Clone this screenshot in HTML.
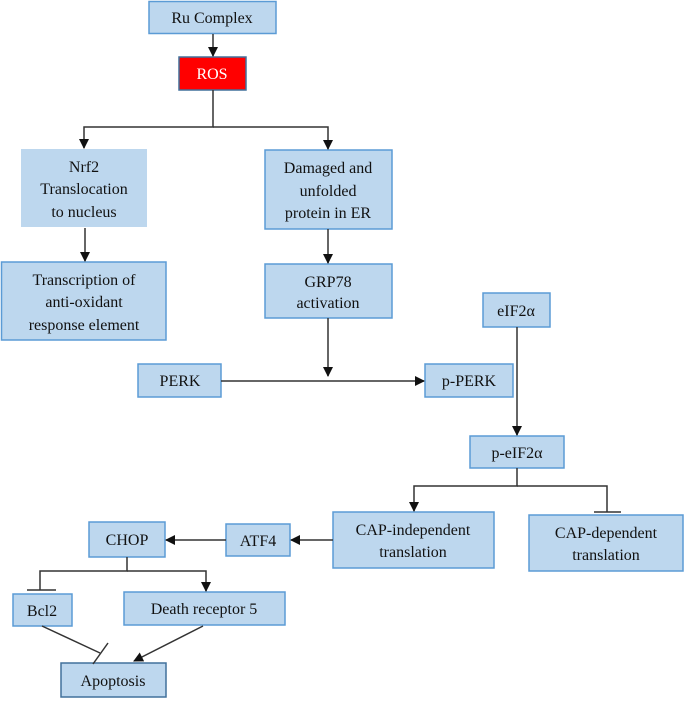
<!DOCTYPE html>
<html><head><meta charset="utf-8"><style>
html,body{margin:0;padding:0;background:#fff;}
svg text{font-family:"Liberation Serif",serif;font-size:16px;fill:#111;text-anchor:middle;}
</style></head><body>
<svg width="685" height="698" viewBox="0 0 685 698" xmlns="http://www.w3.org/2000/svg">
<defs><marker id="a" markerWidth="10" markerHeight="10" refX="9" refY="5" orient="auto" markerUnits="userSpaceOnUse"><path d="M0,0 L10,5 L0,10 z" fill="#111"/></marker></defs>
<g fill="#bdd7ee" stroke="#5b9bd5" stroke-width="1.5">
<rect x="149" y="1.5" width="127" height="32"/>
<rect x="21" y="149" width="126" height="78" stroke="none"/>
<rect x="1.5" y="262" width="164.5" height="78"/>
<rect x="265" y="150" width="127" height="79"/>
<rect x="265" y="264" width="127" height="54"/>
<rect x="138" y="364" width="83" height="33"/>
<rect x="425" y="364" width="88" height="33"/>
<rect x="483" y="293" width="67" height="34"/>
<rect x="470" y="436" width="94" height="32"/>
<rect x="333" y="512" width="161" height="56"/>
<rect x="529" y="515" width="154" height="56"/>
<rect x="226" y="524" width="64" height="32"/>
<rect x="89" y="522" width="76" height="35"/>
<rect x="13" y="594" width="59" height="32"/>
<rect x="124" y="592" width="161" height="33"/>
<rect x="61" y="663" width="105" height="34" stroke="#41719c"/>
</g>
<rect x="179" y="57" width="67" height="33" fill="#ff0000" stroke="#41719c" stroke-width="1.5"/>
<g stroke="#333" stroke-width="1.5" fill="none">
<line x1="213" y1="34" x2="213" y2="56" marker-end="url(#a)"/>
<polyline points="213,90 213,127 84,127 84,148" marker-end="url(#a)"/>
<polyline points="213,127 328,127 328,149" marker-end="url(#a)"/>
<line x1="85" y1="228" x2="85" y2="261" marker-end="url(#a)"/>
<line x1="328" y1="229" x2="328" y2="263" marker-end="url(#a)"/>
<line x1="328" y1="318" x2="328" y2="376" marker-end="url(#a)"/>
<line x1="221" y1="381" x2="424" y2="381" marker-end="url(#a)"/>
<line x1="517" y1="327" x2="517" y2="435" marker-end="url(#a)"/>
<polyline points="517,468 517,486 414,486 414,511" marker-end="url(#a)"/>
<polyline points="517,486 607,486 607,512"/>
<line x1="594" y1="512" x2="621" y2="512"/>
<line x1="333" y1="540" x2="291" y2="540" marker-end="url(#a)"/>
<line x1="226" y1="540" x2="166" y2="540" marker-end="url(#a)"/>
<polyline points="127,557 127,571 40,571 40,590"/>
<line x1="27" y1="590" x2="56" y2="590"/>
<polyline points="127,571 206,571 206,591" marker-end="url(#a)"/>
<line x1="42" y1="626" x2="100" y2="653"/>
<line x1="93" y1="664" x2="108" y2="643"/>
<line x1="203" y1="626" x2="134" y2="661" marker-end="url(#a)"/>
</g>
<text x="212" y="23">Ru Complex</text>
<text x="212" y="79" style="fill:#fff">ROS</text>
<text x="84" y="172">Nrf2</text>
<text x="84" y="194">Translocation</text>
<text x="84" y="217">to nucleus</text>
<text x="84" y="285">Transcription of</text>
<text x="84" y="307">anti-oxidant</text>
<text x="84" y="330">response element</text>
<text x="328" y="173">Damaged and</text>
<text x="328" y="196">unfolded</text>
<text x="328" y="218">protein in ER</text>
<text x="328" y="287">GRP78</text>
<text x="328" y="308">activation</text>
<text x="180" y="386">PERK</text>
<text x="469" y="386">p-PERK</text>
<text x="516" y="316">eIF2α</text>
<text x="517" y="458">p-eIF2α</text>
<text x="413" y="535">CAP-independent</text>
<text x="413" y="557">translation</text>
<text x="606" y="538">CAP-dependent</text>
<text x="606" y="560">translation</text>
<text x="258" y="546">ATF4</text>
<text x="127" y="545">CHOP</text>
<text x="42" y="616">Bcl2</text>
<text x="204" y="614">Death receptor 5</text>
<text x="113" y="686">Apoptosis</text>
</svg>
</body></html>
